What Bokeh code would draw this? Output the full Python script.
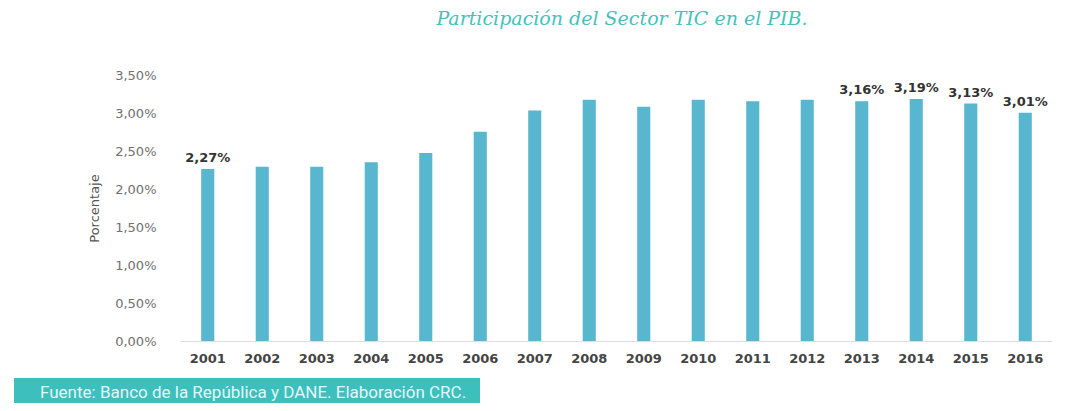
from bokeh.plotting import figure
from bokeh.models import ColumnDataSource, FixedTicker, Div
from bokeh.layouts import column
from bokeh.core.properties import value
from bokeh.embed import file_html
from bokeh.resources import INLINE

# ---- data ----
years = [2001, 2002, 2003, 2004, 2005, 2006, 2007, 2008,
         2009, 2010, 2011, 2012, 2013, 2014, 2015, 2016]
values = [2.27, 2.30, 2.30, 2.36, 2.48, 2.76, 3.04, 3.18,
          3.09, 3.18, 3.16, 3.18, 3.16, 3.19, 3.13, 3.01]
labeled_years = [2001, 2013, 2014, 2015, 2016]
y_ticks = [0.0, 0.5, 1.0, 1.5, 2.0, 2.5, 3.0, 3.5]
y_tick_labels = ["0,00%", "0,50%", "1,00%", "1,50%", "2,00%", "2,50%", "3,00%", "3,50%"]
title_text = "Participación del Sector TIC en el PIB."
source_text = "Fuente: Banco de la República y DANE. Elaboración CRC."
y_axis_title = "Porcentaje"

def fmt(v):
    return f"{v:.2f}".replace(".", ",") + "%"

bars = ColumnDataSource(dict(x=years, top=values))
lab_vals = [values[years.index(y)] for y in labeled_years]
labels = ColumnDataSource(dict(x=labeled_years, y=lab_vals, t=[fmt(v) for v in lab_vals]))

FONT = "DejaVu Sans"

title = Div(text=title_text, width=1064, height=36, margin=(0, 0, 0, 0),
            styles={"font-family": "DejaVu Serif", "font-style": "italic",
                    "font-size": "19px", "color": "#45c1bd",
                    "text-align": "center", "padding-left": "180px",
                    "box-sizing": "border-box", "line-height": "36px",
                    "white-space": "nowrap"})

p = figure(width=1064, height=342, output_backend="svg", toolbar_location=None,
           x_range=(2000.5, 2016.5), y_range=(0, 3.5),
           min_border_left=180, min_border_right=12, min_border_top=39, min_border_bottom=37)
p.background_fill_color = "white"
p.border_fill_color = "white"
p.outline_line_color = None
p.xgrid.visible = False
p.ygrid.visible = False

p.vbar(x="x", top="top", width=0.24, bottom=0, source=bars,
       fill_color="#58b6ce", line_color=None)

p.text(x="x", y="y", text="t", source=labels, text_align="center", text_baseline="bottom",
       y_offset=-4, text_font=value(FONT), text_font_style="bold",
       text_font_size="13px", text_color="#333333")

# axes
p.xaxis.ticker = FixedTicker(ticks=years)
p.xaxis.major_label_overrides = {y: str(y) for y in years}
p.xaxis.axis_line_color = "#dddddd"
p.xaxis.axis_line_width = 1
p.xaxis.major_tick_line_color = None
p.xaxis.minor_tick_line_color = None
p.xaxis.major_label_standoff = 6
p.xaxis.major_label_text_font = FONT
p.xaxis.major_label_text_font_style = "bold"
p.xaxis.major_label_text_font_size = "13px"
p.xaxis.major_label_text_color = "#444444"

p.yaxis.ticker = FixedTicker(ticks=y_ticks)
p.yaxis.major_label_overrides = {t: l for t, l in zip(y_ticks, y_tick_labels)}
p.yaxis.axis_line_color = None
p.yaxis.major_tick_line_color = None
p.yaxis.minor_tick_line_color = None
p.yaxis.major_label_standoff = 18
p.yaxis.major_label_text_font = FONT
p.yaxis.major_label_text_font_size = "13px"
p.yaxis.major_label_text_color = "#707070"
p.yaxis.axis_label = y_axis_title
p.yaxis.axis_label_text_font = FONT
p.yaxis.axis_label_text_font_style = "normal"
p.yaxis.axis_label_text_font_size = "13px"
p.yaxis.axis_label_text_color = "#555555"
p.yaxis.axis_label_standoff = 10

footer = Div(text=source_text, width=466, height=25, margin=(0, 0, 0, 14),
             styles={"background-color": "#3dbfbd", "color": "#e3f8f6",
                     "font-family": "Roboto", "font-size": "17px",
                     "padding-left": "26px", "padding-top": "5px",
                     "box-sizing": "border-box", "line-height": "18px",
                     "white-space": "nowrap", "overflow": "hidden"})

layout = column(title, p, footer, spacing=0)
open("out.html", "w").write(file_html(layout, INLINE))
